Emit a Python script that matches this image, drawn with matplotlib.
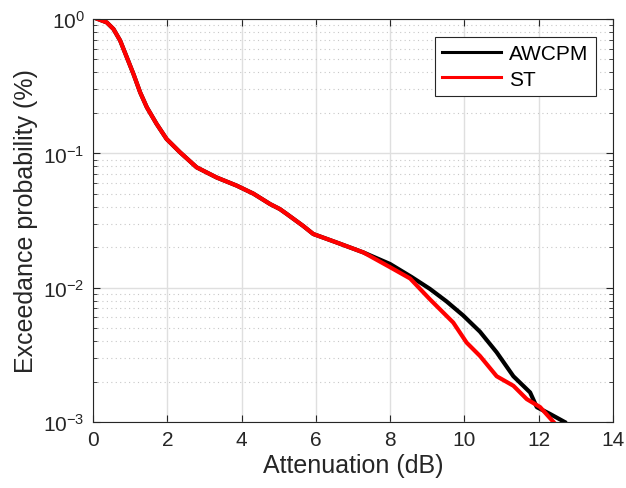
import numpy as np
import matplotlib
matplotlib.use("Agg")
import matplotlib.pyplot as plt
from matplotlib.ticker import LogLocator, NullFormatter

# AWCPM curve (attenuation dB, exceedance probability %)
awcpm_x = [0.13, 0.37, 0.55, 0.73, 0.91, 1.09, 1.27, 1.45, 1.71, 1.98, 2.34, 2.79,
           3.33, 3.87, 4.32, 4.77, 5.03, 5.21, 5.66, 5.93, 6.56, 7.28, 8.0, 8.58,
           9.07, 9.52, 9.97, 10.42, 10.87, 11.32, 11.77, 11.95, 12.3, 12.7]
awcpm_y = [1.0, 0.944, 0.843, 0.692, 0.519, 0.389, 0.284, 0.220, 0.166, 0.128, 0.102, 0.0787,
           0.0661, 0.0575, 0.0501, 0.0419, 0.0385, 0.0355, 0.0288, 0.0251, 0.0217, 0.0183, 0.0150, 0.0120,
           0.0098, 0.0079, 0.0062, 0.0047, 0.0033, 0.00219, 0.00166, 0.00129, 0.00115, 0.001]

# ST curve
st_x = [0.13, 0.37, 0.55, 0.73, 0.91, 1.09, 1.27, 1.45, 1.71, 1.98, 2.34, 2.79,
        3.33, 3.87, 4.32, 4.77, 5.03, 5.21, 5.66, 5.93, 6.56, 7.28, 8.0, 8.54,
        9.07, 9.70, 10.06, 10.42, 10.87, 11.32, 11.68, 12.04, 12.4]
st_y = [1.0, 0.944, 0.843, 0.692, 0.519, 0.389, 0.284, 0.220, 0.166, 0.128, 0.102, 0.0787,
        0.0661, 0.0575, 0.0501, 0.0419, 0.0385, 0.0355, 0.0288, 0.0251, 0.0217, 0.0183, 0.0142, 0.0117,
        0.0082, 0.0055, 0.0039, 0.0031, 0.00219, 0.00186, 0.00148, 0.00129, 0.001]

text_color = "#262626"
plt.rcParams["font.family"] = ["Liberation Sans", "DejaVu Sans"]

fig = plt.figure(figsize=(6.26, 4.89), dpi=100)
ax = fig.add_axes([0.1486, 0.135, 0.8305, 0.824])

ax.plot(awcpm_x, awcpm_y, color="black", lw=3, label="AWCPM", solid_joinstyle="round")
ax.plot(st_x, st_y, color="red", lw=3, label="ST", solid_joinstyle="round")

ax.set_yscale("log")
ax.set_xlim(0, 14)
ax.set_ylim(1e-3, 1)
ax.set_xticks(np.arange(0, 15, 2))
ax.yaxis.set_minor_locator(LogLocator(base=10, subs=np.arange(2, 10)))
ax.yaxis.set_minor_formatter(NullFormatter())

ax.grid(True, which="major", color="#dfdfdf", lw=1, ls="-")
ax.grid(True, which="minor", axis="y", color="#c8c8c8", lw=0.8, ls=(0, (1, 3)))
ax.set_axisbelow(True)

ax.tick_params(which="both", direction="in", top=True, right=True,
               colors=text_color, labelsize=15, labelcolor=text_color)
ax.tick_params(which="major", length=5, pad=6)
ax.tick_params(which="minor", length=3)
for sp in ax.spines.values():
    sp.set_color(text_color)
    sp.set_linewidth(0.8)

ax.set_xlabel("Attenuation (dB)", fontsize=18, color=text_color, labelpad=3)
ax.set_ylabel("Exceedance probability (%)", fontsize=18, color=text_color, labelpad=4)

leg = ax.legend(loc="upper right", bbox_to_anchor=(0.967, 0.955), borderaxespad=0,
                fontsize=15, fancybox=False, framealpha=1, edgecolor=text_color,
                handlelength=2.8, borderpad=0.35, labelspacing=0.3, handletextpad=0.4)
leg.get_frame().set_linewidth(0.8)
for line in leg.get_lines():
    line.set_linewidth(2.2)

fig.savefig("out.png", dpi=100)
